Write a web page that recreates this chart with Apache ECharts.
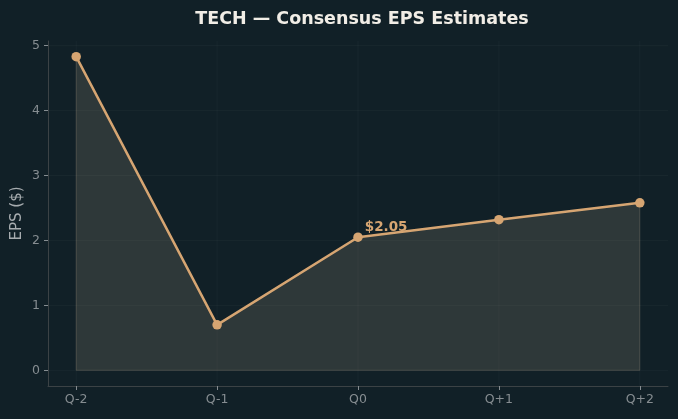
<!DOCTYPE html>
<html>
<head>
<meta charset="utf-8">
<script src="https://cdn.jsdelivr.net/npm/echarts@6/dist/echarts.min.js"></script>
<style>
  html, body { margin: 0; padding: 0; background: #112027; }
  #chart { width: 678px; height: 419px; }
</style>
</head>
<body>
<div id="chart"></div>
<script>
const quarters = ['Q-2', 'Q-1', 'Q0', 'Q+1', 'Q+2'];
const eps = [4.83, 0.70, 2.05, 2.32, 2.58];
const yTicks = [0, 1, 2, 3, 4, 5];
const highlightIdx = 2;

const accent = '#d6a572';
const muted = '#868d91';
const spine = '#3b4245';

const points = eps.map((v, i) => [i, v]);
const xTicks = quarters.map((q, i) => i);

const chart = echarts.init(document.getElementById('chart'));

chart.setOption({
  backgroundColor: '#112027',
  animation: false,
  title: {
    text: 'TECH \u2014 Consensus EPS Estimates',
    left: 357, top: 5, textAlign: 'center',
    textStyle: { color: '#f1ede6', fontSize: 17.5, fontWeight: 'bold', fontFamily: 'DejaVu Sans' }
  },
  grid: { left: 48, right: 10, top: 41, bottom: 33, outerBoundsMode: 'none', containLabel: false },
  xAxis: {
    type: 'value', min: -0.2, max: 4.2,
    axisLine: { show: true, onZero: false, lineStyle: { color: spine } },
    axisTick: { show: true, customValues: xTicks, length: 4, lineStyle: { color: muted } },
    axisLabel: {
      customValues: xTicks, color: muted, fontSize: 12.5, fontFamily: 'DejaVu Sans', margin: 7,
      formatter: v => quarters[Math.round(v)]
    },
    splitLine: { show: false }
  },
  yAxis: {
    type: 'value', min: -0.2415, max: 5.0715,
    name: 'EPS ($)', nameLocation: 'middle', nameGap: 23, nameMoveOverlap: false,
    nameTextStyle: { color: '#a7acaf', fontSize: 15, fontFamily: 'DejaVu Sans' },
    axisLine: { show: true, onZero: false, lineStyle: { color: spine } },
    axisTick: { show: true, customValues: yTicks, length: 4, lineStyle: { color: muted } },
    axisLabel: { customValues: yTicks, color: muted, fontSize: 12.5, fontFamily: 'DejaVu Sans', margin: 8 },
    splitLine: { show: false }
  },
  series: [
    {
      // faint grid lines at the tick positions
      type: 'custom',
      silent: true,
      data: [0],
      z: 0,
      renderItem: (params, api) => {
        const children = [];
        const lineStyle = { stroke: 'rgba(255,255,255,0.03)', lineWidth: 1 };
        xTicks.forEach(x => {
          const a = api.coord([x, -0.2415]), b = api.coord([x, 5.0715]);
          children.push({ type: 'line', shape: { x1: a[0], y1: a[1], x2: b[0], y2: b[1] }, style: lineStyle });
        });
        yTicks.forEach(y => {
          const a = api.coord([-0.2, y]), b = api.coord([4.2, y]);
          children.push({ type: 'line', shape: { x1: a[0], y1: a[1], x2: b[0], y2: b[1] }, style: lineStyle });
        });
        return { type: 'group', children };
      }
    },
    {
      // shaded area under the estimates
      type: 'custom',
      silent: true,
      data: [0],
      z: 1,
      renderItem: (params, api) => {
        const pts = points.map(p => api.coord(p));
        pts.push(api.coord([points.length - 1, 0]));
        pts.push(api.coord([0, 0]));
        return {
          type: 'polygon',
          shape: { points: pts },
          style: { fill: 'rgba(215,195,160,0.15)', stroke: 'rgba(215,195,160,0.2)', lineWidth: 1 }
        };
      }
    },
    {
      type: 'line',
      data: points.map((p, i) => i === highlightIdx ? {
        value: p,
        label: {
          show: true, position: 'right', distance: 2, offset: [0, -10],
          formatter: '$' + eps[i].toFixed(2),
          color: accent, fontSize: 13.5, fontWeight: 'bold', fontFamily: 'DejaVu Sans'
        }
      } : p),
      z: 3,
      symbol: 'circle',
      symbolSize: 9.5,
      itemStyle: { color: accent },
      lineStyle: { color: accent, width: 2.5 }
    }
  ]
});
</script>
</body>
</html>
